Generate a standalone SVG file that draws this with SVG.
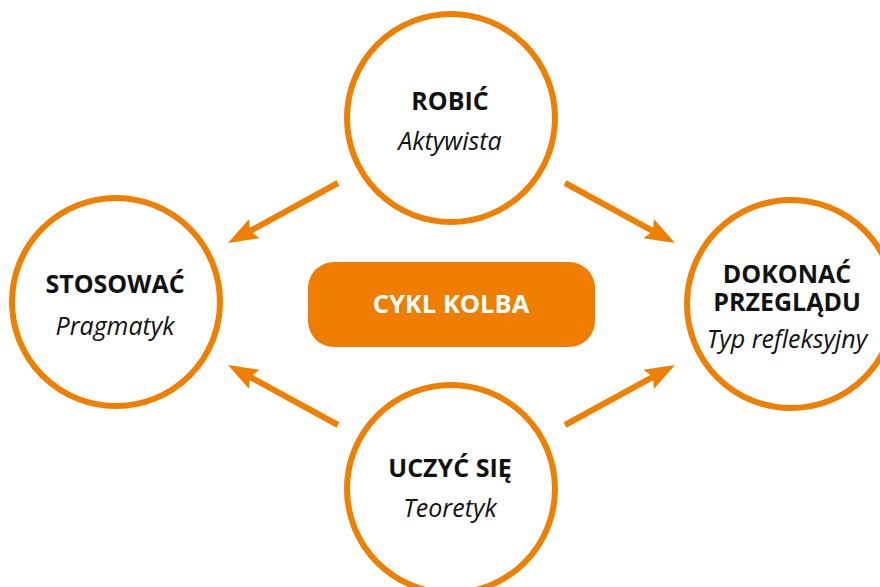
<svg xmlns="http://www.w3.org/2000/svg" width="880" height="587" viewBox="0 0 880 587">
<style>
.ring{fill:#fff;stroke:#EF7F00;stroke-width:6}
.t{font-family:"Open Sans","Noto Sans","Liberation Sans",sans-serif;font-weight:700;font-size:25px;fill:#111;text-anchor:middle}
.s{font-family:"Open Sans","Noto Sans","Liberation Sans",sans-serif;font-style:italic;font-size:25px;fill:#111;text-anchor:middle}
.conn{stroke:#EF7F00;stroke-width:6;fill:none;marker-end:url(#ah)}
</style>
<defs>
<marker id="ah" viewBox="0 0 30 24" refX="15" refY="12" markerWidth="30" markerHeight="24" markerUnits="userSpaceOnUse" orient="auto">
<path d="M0,1 L30,12 L0,23 L5,12 Z" fill="#EF7F00"/>
</marker>
</defs>
<rect width="880" height="587" fill="#fff"/>
<g id="connectors">
<line class="conn" x1="338" y1="183" x2="241.2" y2="235.8"/>
<line class="conn" x1="565" y1="183" x2="661.8" y2="235.8"/>
<line class="conn" x1="338" y1="425" x2="241.2" y2="372.2"/>
<line class="conn" x1="565" y1="425" x2="661.8" y2="372.2"/>
</g>
<g id="robic">
<circle class="ring" cx="451" cy="118" r="104"/>
<text class="t" x="450" y="110">ROBIĆ</text>
<text class="s" x="450" y="150">Aktywista</text>
</g>
<g id="stosowac">
<circle class="ring" cx="116" cy="302" r="104"/>
<text class="t" x="115" y="293">STOSOWAĆ</text>
<text class="s" x="115" y="335">Pragmatyk</text>
</g>
<g id="dokonac">
<circle class="ring" cx="791" cy="304" r="104"/>
<text class="t" x="787" y="283">DOKONAĆ</text>
<text class="t" x="787" y="311">PRZEGLĄDU</text>
<text class="s" x="787" y="348">Typ refleksyjny</text>
</g>
<g id="uczyc">
<circle class="ring" cx="451" cy="489" r="104"/>
<text class="t" x="450" y="477">UCZYĆ SIĘ</text>
<text class="s" x="450" y="517">Teoretyk</text>
</g>
<g id="cykl">
<rect x="308" y="262" width="287" height="85" rx="26" fill="#EF7D00"/>
<text x="451" y="313" font-family="'Open Sans','Noto Sans','Liberation Sans',sans-serif" font-weight="700" font-size="25.5" fill="#fff" text-anchor="middle">CYKL KOLBA</text>
</g>
</svg>
